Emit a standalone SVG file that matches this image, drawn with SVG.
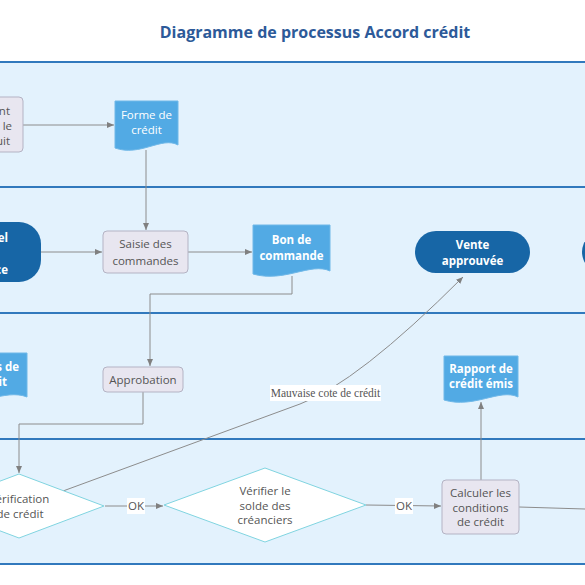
<svg xmlns="http://www.w3.org/2000/svg" width="585" height="585" viewBox="0 0 585 585">
<style>
.lane{fill:#e3f2fd}
.lline{stroke:#3179bd;stroke-width:2}
.proc{fill:#e8e6f0;stroke:#b4b3c4;stroke-width:1}
.doc{fill:#52aae4;stroke:#6fb8e8;stroke-width:1}
.term{fill:#1766a6}
.dia{fill:#ffffff;stroke:#80d4e0;stroke-width:1}
.t{font-family:"Open Sans","Noto Sans",sans-serif;font-size:11.5px;fill:#555;text-anchor:middle}
.tw{font-family:"Open Sans","Noto Sans",sans-serif;font-size:11.5px;fill:#ffffff;text-anchor:middle}
.tb{font-family:"Open Sans","Noto Sans",sans-serif;font-size:11.5px;font-weight:bold;fill:#ffffff;text-anchor:middle}
.c{fill:none;stroke:#8c8c8c;stroke-width:1}
.lbl{fill:#ffffff}
</style>
<defs>
<marker id="ah" markerWidth="8" markerHeight="8" refX="7" refY="4" orient="auto" markerUnits="userSpaceOnUse">
<path d="M0,1 L7,4 L0,7 Z" fill="#808080"/>
</marker>
</defs>
<rect width="585" height="585" fill="#ffffff"/>
<text x="315" y="38" font-family="'Open Sans','Noto Sans',sans-serif" font-size="16" font-weight="bold" fill="#2d5a99" text-anchor="middle">Diagramme de processus Accord crédit</text>
<g id="lanes">
<rect class="lane" x="0" y="62" width="585" height="502"/>
<line class="lline" x1="0" y1="62" x2="585" y2="62"/>
<line class="lline" x1="0" y1="187" x2="585" y2="187"/>
<line class="lline" x1="0" y1="313" x2="585" y2="313"/>
<line class="lline" x1="0" y1="439" x2="585" y2="439"/>
<line class="lline" x1="0" y1="564" x2="585" y2="564"/>
</g>
<g id="connectors">
<line class="c" x1="23" y1="125" x2="114" y2="125" marker-end="url(#ah)"/>
<line class="c" x1="146" y1="150" x2="146" y2="230" marker-end="url(#ah)"/>
<line class="c" x1="41" y1="252" x2="102" y2="252" marker-end="url(#ah)"/>
<line class="c" x1="188" y1="252" x2="252" y2="252" marker-end="url(#ah)"/>
<polyline class="c" points="292,276 292,294 150,294 150,366" marker-end="url(#ah)"/>
<polyline class="c" points="143,392 143,424 19,424 19,473" marker-end="url(#ah)"/>
<path class="c" d="M63,491 L300,404 Q357,383 463,277" marker-end="url(#ah)"/>
<line class="c" x1="105" y1="506" x2="163" y2="506" marker-end="url(#ah)"/>
<line class="c" x1="366" y1="505" x2="441" y2="506" marker-end="url(#ah)"/>
<line class="c" x1="481" y1="480" x2="481" y2="402" marker-end="url(#ah)"/>
<line class="c" x1="519" y1="507" x2="585" y2="509"/>
<rect class="lbl" x="270" y="385" width="111" height="16"/>
<text x="325.5" y="397" font-family="'Liberation Serif',serif" font-size="11.5" fill="#555" text-anchor="middle">Mauvaise cote de crédit</text>
<rect class="lbl" x="127" y="498" width="18" height="16"/>
<text class="t" x="136" y="510">OK</text>
<rect class="lbl" x="395" y="498" width="18" height="16"/>
<text class="t" x="404" y="510">OK</text>
</g>
<g id="n-left1">
<rect class="proc" x="-60" y="97" width="83" height="55" rx="4"/>
<text class="t" x="10" y="115" style="text-anchor:end">nt</text>
<text class="t" x="12" y="130" style="text-anchor:end">e le</text>
<text class="t" x="10" y="145" style="text-anchor:end">uit</text>
</g>
<g id="n-forme">
<path class="doc" d="M115,101 H178 V145 C162,136 140,157 115,148 Z"/>
<text class="tw" x="146.5" y="119">Forme de</text>
<text class="tw" x="146.5" y="134">crédit</text>
</g>
<g id="n-left2">
<rect class="term" x="-80" y="222" width="121" height="60" rx="22"/>
<text class="tb" x="8" y="242" style="text-anchor:end">el</text>
<text class="tb" x="8" y="274" style="text-anchor:end">ce</text>
</g>
<g id="n-saisie">
<rect class="proc" x="103" y="231" width="85" height="42" rx="4"/>
<text class="t" x="145.5" y="248">Saisie des</text>
<text class="t" x="145.5" y="265">commandes</text>
</g>
<g id="n-bon">
<path class="doc" d="M253,225 H330 V271 C311,262 284,283 253,274 Z"/>
<text class="tb" x="291.5" y="244">Bon de</text>
<text class="tb" x="291.5" y="260">commande</text>
</g>
<g id="n-vente">
<rect class="term" x="415" y="231" width="115" height="42" rx="21"/>
<text class="tb" x="472.5" y="249">Vente</text>
<text class="tb" x="472.5" y="265">approuvée</text>
</g>
<g id="n-right2">
<rect class="term" x="582" y="231" width="115" height="42" rx="21"/>
</g>
<g id="n-left3">
<path class="doc" d="M-47,353 H27 V397 C5,388 -25,409 -47,400 Z"/>
<text class="tb" x="19" y="371" style="text-anchor:end">s de</text>
<text class="tb" x="7" y="386" style="text-anchor:end">it</text>
</g>
<g id="n-approbation">
<rect class="proc" x="103" y="367" width="80" height="25" rx="4"/>
<text class="t" x="143" y="384">Approbation</text>
</g>
<g id="n-rapport">
<path class="doc" d="M444,356 H518 V397 C500,388 474,409 444,400 Z"/>
<text class="tb" x="481" y="373">Rapport de</text>
<text class="tb" x="481" y="388">crédit émis</text>
</g>
<g id="n-verification">
<polygon class="dia" points="19,474 104,506 19,538 -66,506"/>
<text class="t" x="19" y="503">Vérification</text>
<text class="t" x="20" y="518">de crédit</text>
</g>
<g id="n-verifier">
<polygon class="dia" points="265,468 366,505 265,542 164,505"/>
<text class="t" x="265" y="495">Vérifier le</text>
<text class="t" x="265" y="510">solde des</text>
<text class="t" x="265" y="524">créanciers</text>
</g>
<g id="n-calculer">
<rect class="proc" x="442" y="480" width="77" height="54" rx="4"/>
<text class="t" x="480.5" y="497">Calculer les</text>
<text class="t" x="480.5" y="512">conditions</text>
<text class="t" x="480.5" y="526">de crédit</text>
</g>
</svg>
